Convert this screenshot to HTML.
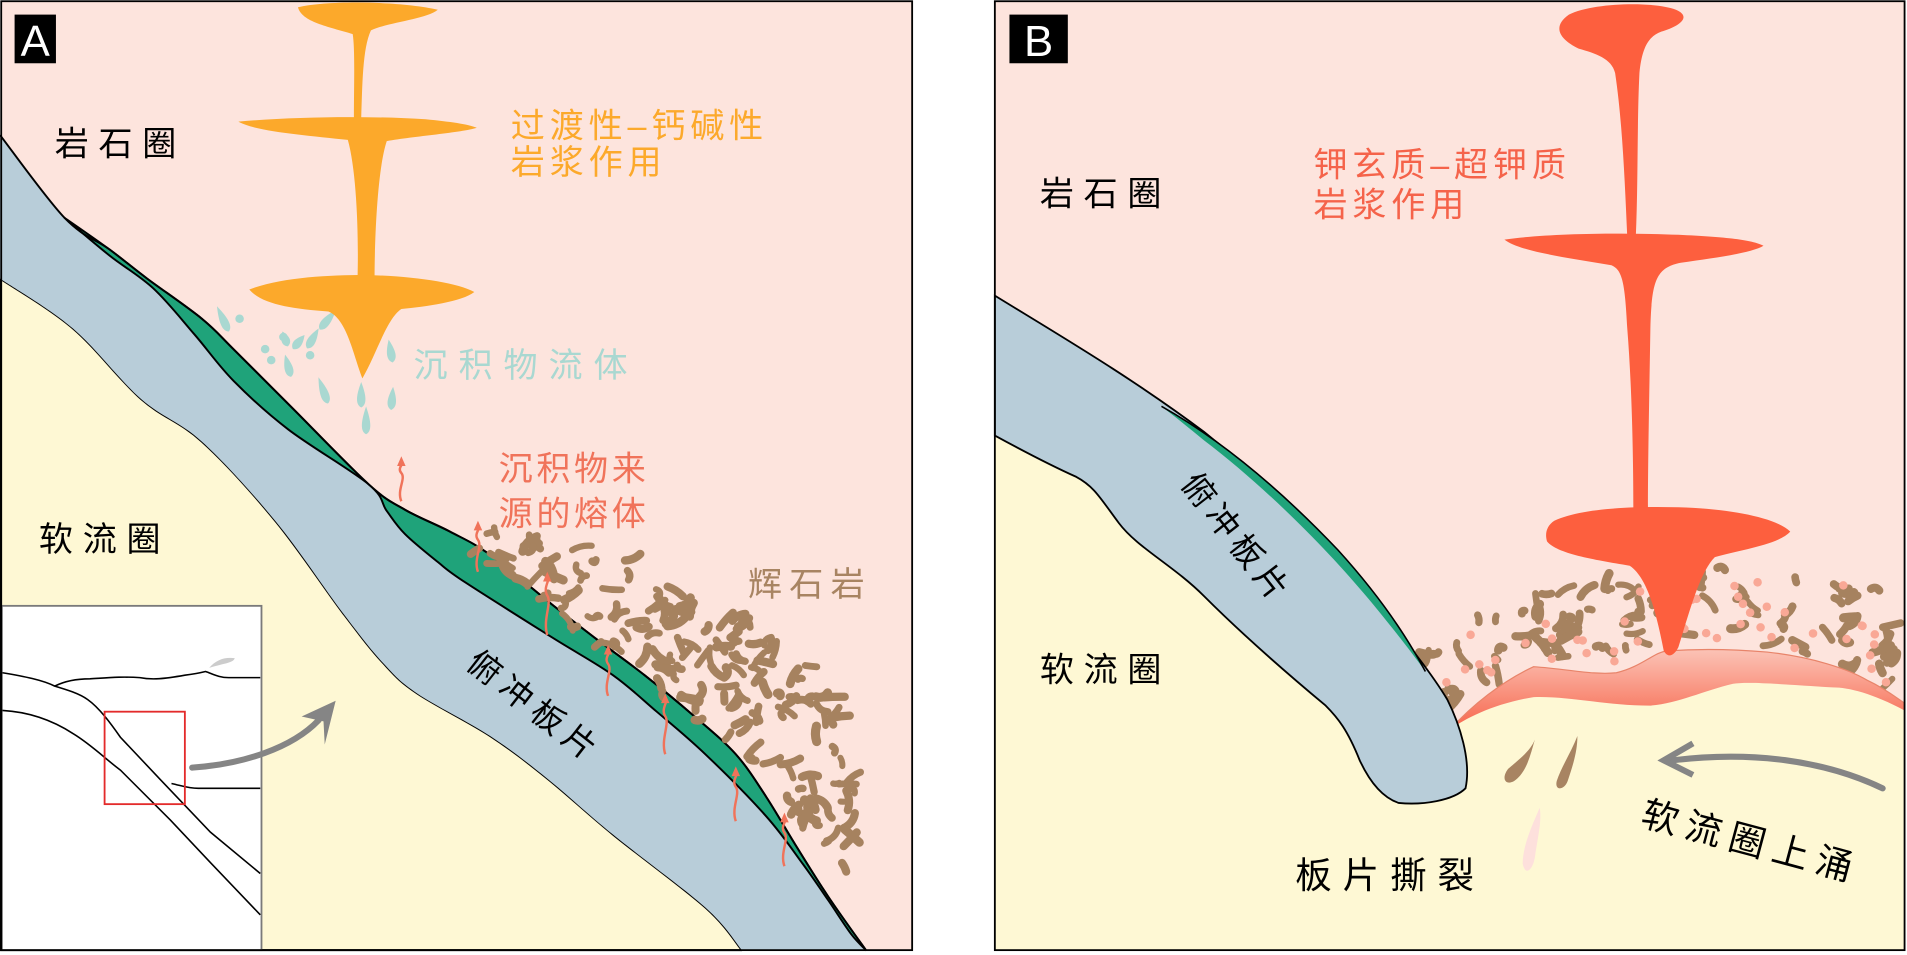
<!DOCTYPE html>
<html><head><meta charset="utf-8"><style>
html,body{margin:0;padding:0;background:#fff;}
svg{display:block;}
text{font-family:"Liberation Sans","Noto Sans CJK SC",sans-serif;}
</style></head><body>
<svg id="s" width="1907" height="955" viewBox="0 0 1568 785" preserveAspectRatio="none" xmlns="http://www.w3.org/2000/svg">
<defs>
<linearGradient id="mg" x1="0" y1="0" x2="0" y2="1">
<stop offset="0" stop-color="#fbc3b6"/><stop offset="1" stop-color="#f7664c"/>
</linearGradient>
</defs>
<!-- PANEL A -->
<rect x="1" y="1" width="749" height="780" fill="#fde4dd"/>
<path id="lowA" d="" fill="#fef8d4" stroke="#000" stroke-width="1.6" stroke-linejoin="round"/>
<path id="slabA" d="" fill="#b8cdd9"/>
<path id="greenA" d="" fill="#1fa37a" stroke="#000" stroke-width="1.6" stroke-linejoin="round"/>
<path id="upA" d="" fill="none" stroke="#000" stroke-width="1.6" stroke-linejoin="round"/>
<g id="blobsA"></g>
<g id="dropsA" fill="#a9d8d1"></g>
<g id="arrA" fill="none" stroke="#f0735a" stroke-width="2"></g>
<!-- orange magma -->
<g fill="#fca92b">
<path d="M245,6 C270,0 330,1 360,8 C350,16 320,18 305,25 C298,40 298,70 297,97 L291,97 C291,70 292,40 290,28 C270,22 248,18 245,6 Z"/>
<path d="M196,100 C240,96 300,95 350,98 C370,100 385,102 392,105 C380,109 340,112 318,116 C310,140 308,200 308,228 L294,228 C295,190 293,140 286,115 C250,111 210,108 196,100 Z"/>
<path d="M205,238 C230,228 270,226 300,226 C340,227 375,232 390,240 C380,248 350,252 330,254 C318,262 310,290 298,311 C290,290 285,262 270,256 C240,254 215,250 205,238 Z"/>
</g>
<!-- inset -->
<rect x="1.5" y="498" width="213.5" height="283" fill="#fff" stroke="#7a7a7a" stroke-width="1.5"/>
<g fill="none" stroke="#000" stroke-width="1.3">
<path d="M2,553 C20,556 35,559 45,564 C55,567 65,570 72,575 C82,582 92,596 99,606 L132,641 L173,684 L214,718"/>
<path d="M2,584 C20,585 40,590 60,603 C75,612 88,625 99,633 L140,674 L173,709 L214,752"/>
<path d="M45,564 C55,559 65,558 74,558 C90,557 100,556 115,557 C125,559 135,558 152,555 C160,554 165,553 169,552 C175,554 180,557 188,557 L214,557"/>
<path d="M141,644 C150,646 155,648 163,648 L214,648"/>
</g>
<path d="M172,549 C178,542 185,540 193,541 C192,545 185,545 172,549 Z" fill="#ccc"/>
<rect x="86" y="585" width="66" height="76" fill="none" stroke="#e32b2b" stroke-width="1.5"/>
<path d="M158,631 C200,628 240,615 262,592" fill="none" stroke="#858585" stroke-width="5" stroke-linecap="round"/>
<path d="M276,576 L248,589 L266,593 L267,612 Z" fill="#858585"/>
<rect x="1" y="1" width="749" height="780" fill="none" stroke="#000" stroke-width="1.5"/>
<rect x="12" y="12" width="34" height="40" fill="#000"/>
<text x="29" y="46" font-size="36" fill="#fff" text-anchor="middle">A</text>
<g font-size="28">
<text x="45" y="128" fill="#000" letter-spacing="8">岩石圈</text>
<text x="32" y="453" fill="#000" letter-spacing="8">软流圈</text>
<text x="420" y="113" fill="#fca92b" letter-spacing="4">过渡性–钙碱性</text>
<text x="420" y="143" fill="#fca92b" letter-spacing="4">岩浆作用</text>
<text x="340" y="310" fill="#a9d8d1" letter-spacing="9">沉积物流体</text>
<text x="410" y="395" fill="#f0735a" letter-spacing="3">沉积物来</text>
<text x="410" y="432" fill="#f0735a" letter-spacing="3">源的熔体</text>
<text x="615" y="490" fill="#a88462" letter-spacing="6">辉石岩</text>
<text x="0" y="0" fill="#000" letter-spacing="6" font-size="27" transform="translate(382,548) rotate(38)">俯冲板片</text>
</g>

<!-- PANEL B -->
<rect x="818" y="1" width="748" height="780" fill="#fef8d4"/>
<path d="M818,1 L1566,1 L1566,584 C1540,570 1520,565 1507,565 C1470,563 1440,560 1425,562 C1400,568 1380,578 1357,580 C1320,580 1290,572 1261,573 C1230,578 1205,590 1192,600 L1150,520 L818,355 Z" fill="#fde4dd"/>
<g id="blobsB"></g>
<path d="M1192,600 C1210,580 1235,560 1261,548 C1290,550 1310,555 1329,553 C1350,548 1360,536 1371,535 C1400,533 1430,534 1453,536 C1490,540 1520,550 1535,559 C1550,566 1560,574 1566,578 L1566,584 C1540,570 1520,565 1507,565 C1470,563 1440,560 1425,562 C1400,568 1380,578 1357,580 C1320,580 1290,572 1261,573 C1230,578 1205,590 1192,600 Z" fill="url(#mg)"/>
<path d="M1192,600 C1210,580 1235,560 1261,548 C1290,550 1310,555 1329,553 C1350,548 1360,536 1371,535 C1400,533 1430,534 1453,536 C1490,540 1520,550 1535,559 C1550,566 1560,574 1566,578" fill="none" stroke="#e8846a" stroke-width="1"/>
<!-- red magma -->
<g fill="#fd5f3e">
<path d="M1290,12 C1310,2 1360,1 1378,8 C1392,14 1380,22 1366,26 C1355,30 1350,40 1348,60 C1346,100 1347,150 1345,195 L1338,195 C1336,150 1334,100 1328,60 C1325,48 1312,44 1298,40 C1282,32 1276,22 1290,12 Z"/>
<path d="M1237,197 C1270,192 1330,191 1380,193 C1420,195 1440,197 1450,202 C1440,208 1410,212 1382,216 C1362,220 1358,230 1357,270 C1356,330 1355,380 1355,418 L1343,418 C1343,380 1342,320 1338,270 C1336,232 1334,222 1325,218 C1290,212 1250,207 1237,197 Z"/>
<path d="M1278,428 C1300,418 1340,416 1380,417 C1420,418 1460,425 1472,437 C1462,448 1430,452 1410,458 C1398,470 1390,500 1380,532 C1377,538 1372,542 1368,535 C1362,505 1355,475 1340,465 C1310,460 1280,455 1272,445 C1270,438 1272,432 1278,428 Z"/>
</g>
<!-- slab B -->
<path d="M818,243 C870,275 930,310 990,355 C1040,395 1090,445 1130,495 C1150,520 1175,550 1190,575 C1200,595 1210,625 1205,648 C1195,658 1170,662 1150,660 C1135,655 1125,640 1118,625 C1108,600 1100,590 1090,580 C1060,555 1020,520 990,490 C965,465 935,450 920,430 C905,410 900,400 885,392 C865,383 840,370 818,358 Z" fill="#b8cdd9" stroke="#000" stroke-width="1.5"/>
<path d="M955,334 C1010,365 1060,410 1100,452 C1130,485 1155,520 1172,552 C1160,535 1140,510 1125,492 C1090,450 1040,400 990,362 C978,352 967,343 955,334 Z" fill="#1fa37a"/>
<path d="M955,334 C1010,365 1060,410 1100,452 C1130,485 1155,520 1172,552" fill="none" stroke="#000" stroke-width="1.3"/>
<!-- drops -->
<g fill="#a88462">
<path d="M1262,608 C1258,618 1248,625 1240,632 C1234,640 1238,646 1245,642 C1255,635 1258,622 1262,608 Z"/>
<path d="M1297,605 C1292,618 1284,630 1280,642 C1278,650 1286,650 1289,642 C1293,630 1297,618 1297,605 Z"/>
</g>
<path d="M1266,664 C1260,678 1252,695 1252,710 C1254,720 1260,716 1262,705 C1264,690 1268,675 1266,664 Z" fill="#fde0dc"/>
<path d="M1548,648 C1500,625 1440,617 1375,625" fill="none" stroke="#858585" stroke-width="5" stroke-linecap="round"/>
<path d="M1392,611 L1368,625 L1392,637" fill="none" stroke="#858585" stroke-width="5"/>
<rect x="818" y="1" width="748" height="780" fill="none" stroke="#000" stroke-width="1.5"/>
<rect x="830" y="12" width="48" height="40" fill="#000"/>
<text x="854" y="46" font-size="36" fill="#fff" text-anchor="middle">B</text>
<g font-size="28">
<text x="855" y="169" fill="#000" letter-spacing="8">岩石圈</text>
<text x="855" y="560" fill="#000" letter-spacing="8">软流圈</text>
<text x="1080" y="145" fill="#f5634a" letter-spacing="4">钾玄质–超钾质</text>
<text x="1080" y="178" fill="#f5634a" letter-spacing="4">岩浆作用</text>
<text x="1065" y="730" fill="#000" letter-spacing="9" font-size="30">板片撕裂</text>
<text x="0" y="0" fill="#000" letter-spacing="7" font-size="30" transform="translate(1348,678) rotate(15)">软流圈上涌</text>
<text x="0" y="0" fill="#000" letter-spacing="5" font-size="27" transform="translate(970,398) rotate(52)">俯冲板片</text>
</g>
</svg>
<script>
(function(){
var NS="http://www.w3.org/2000/svg";
function cr(p){var d="M"+p[0][0]+","+p[0][1];for(var i=0;i<p.length-1;i++){var p0=p[i-1]||p[i],p1=p[i],p2=p[i+1],p3=p[i+2]||p2;
 d+=" C"+(p1[0]+(p2[0]-p0[0])/6).toFixed(1)+","+(p1[1]+(p2[1]-p0[1])/6).toFixed(1)+" "+(p2[0]-(p3[0]-p1[0])/6).toFixed(1)+","+(p2[1]-(p3[1]-p1[1])/6).toFixed(1)+" "+p2[0]+","+p2[1];}return d;}
function rev(a){return a.slice().reverse();}
var up=[[0,111],[53,179],[90,205],[121,229],[166,262],[192,287],[240,335],[303,398],[333,419],[370,437],[403,456],[454,497],[490,525],[530,555],[570,588],[605,620],[630,655],[655,696],[681,737],[712,781]];
var top=[[53,179],[90,210],[126,237],[160,275],[192,313],[237,353],[303,398],[318,420],[333,439],[360,462],[383,479],[454,524],[504,555],[540,585],[580,620],[630,671],[660,710],[681,740],[700,768],[712,781]];
var low=[[0,229],[60,270],[116,328],[166,363],[227,429],[282,504],[315,545],[343,570],[403,605],[450,640],[504,686],[580,746],[610,781]];
document.getElementById("lowA").setAttribute("d",cr(low)+" L0,781 Z");
document.getElementById("slabA").setAttribute("d",cr(up)+" L610,781 "+cr(rev(low)).replace("M","L")+" Z");
document.getElementById("greenA").setAttribute("d",cr(up.slice(1))+" "+cr(rev(top)).replace("M","L")+" Z");
document.getElementById("upA").setAttribute("d",cr(up));
var seed=11;function r(){seed=(seed*16807)%2147483647;return (seed-1)/2147483646;}
function inPoly(x,y,p){var c=false;for(var i=0,j=p.length-1;i<p.length;j=i++){var xi=p[i][0],yi=p[i][1],xj=p[j][0],yj=p[j][1];if(((yi>y)!=(yj>y))&&(x<(xj-xi)*(y-yi)/(yj-yi)+xi))c=!c;}return c;}
function el(n,a,g){var e=document.createElementNS(NS,n);for(var k in a)e.setAttribute(k,a[k]);g.appendChild(e);}
function blobs(g,poly,n,bx,by,bw,bh,dots){
 var cnt=0,t=0;while(cnt<n&&t<20000){t++;var x=bx+r()*bw,y=by+r()*bh;if(!inPoly(x,y,poly))continue;cnt++;
  var a=r()*Math.PI*2,L=1.5+r()*7,c=r()*8-4;
  var x1=x-Math.cos(a)*L,y1=y-Math.sin(a)*L,x2=x+Math.cos(a)*L,y2=y+Math.sin(a)*L;
  var mx=x-Math.sin(a)*c,my=y+Math.cos(a)*c;
  el("path",{d:"M"+x1+","+y1+" Q"+mx+","+my+" "+x2+","+y2,fill:"none",stroke:"#a6825f","stroke-width":(5+r()*2.5).toFixed(1),"stroke-linecap":"round"},g);}
 if(dots){cnt=0;t=0;while(cnt<dots&&t<20000){t++;var x=bx+r()*bw,y=by+r()*bh;if(!inPoly(x,y,poly))continue;cnt++;el("circle",{cx:x,cy:y,r:3.5,fill:"#f9a896"},g);}}
}
blobs(document.getElementById("blobsA"),[[376,430],[450,443],[530,460],[600,500],[680,555],[712,640],[708,722],[676,715],[660,680],[625,635],[585,600],[530,560],[470,515],[410,468],[382,448]],165,370,425,345,300,0);
blobs(document.getElementById("blobsB"),[[1160,548],[1180,522],[1250,490],[1330,468],[1420,464],[1500,474],[1562,488],[1562,570],[1535,553],[1453,530],[1371,529],[1329,546],[1261,542],[1220,562],[1195,592]],105,1155,455,410,145,50);
var gd=document.getElementById("dropsA");
var drops=[[186,268,-25,18],[197,262,10,5],[235,280,-20,8],[244,283,40,10],[255,282,30,14],[223,296,-10,5],[238,305,-15,14],[255,292,0,3],[268,327,-20,18],[297,330,0,16],[322,293,-10,14],[322,332,5,14],[301,352,0,18],[233,277,0,3],[218,287,0,3],[266,267,40,16]];
drops.forEach(function(d){var x=d[0],y=d[1],a=d[2],L=d[3];
 if(L<=5){el("circle",{cx:x,cy:y,r:3.5},gd);return;}
 el("path",{d:"M"+x+","+(y-L)+" C"+(x+3)+","+(y-L/2)+" "+(x+6)+","+(y+2)+" "+x+","+(y+5)+" C"+(x-6)+","+(y+2)+" "+(x-3)+","+(y-L/2)+" "+x+","+(y-L)+" Z",transform:"rotate("+a+" "+x+" "+y+")"},gd);});
var ga=document.getElementById("arrA");
[[330,375,412],[393,428,470],[450,470,522],[500,530,572],[547,570,620],[605,630,675],[645,668,712]].forEach(function(a){
 var x=a[0],t=a[1],b=a[2],h=(b-t)/4;
 el("path",{d:"M"+x+","+b+" C"+(x-4)+","+(b-h)+" "+(x+4)+","+(b-h*2)+" "+x+","+(b-h*2.5)+" C"+(x-4)+","+(b-h*3)+" "+(x+3)+","+(t+6)+" "+x+","+(t+5)},ga);
 el("path",{d:"M"+(x-3.5)+","+(t+8)+" L"+x+","+t+" L"+(x+3.5)+","+(t+8)+" Z",fill:"#f0735a",stroke:"none"},ga);});
})();
</script>
</body></html>
